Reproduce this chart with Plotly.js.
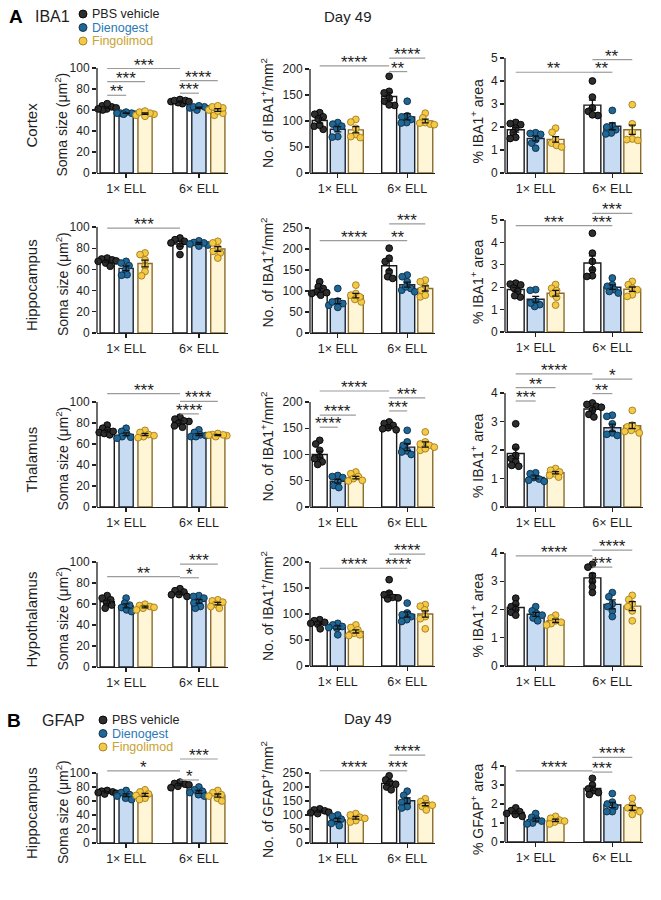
<!DOCTYPE html>
<html>
<head>
<meta charset="utf-8">
<script src="https://cdn.plot.ly/plotly-3.0.1.min.js"></script>
<style>
  html, body { margin: 0; padding: 0; background: #fff; }
  #fig { width: 661px; height: 900px; }
</style>
</head>
<body>
<div id="fig"></div>
<script>
// ---- categories ----
const groups = ['1× ELL', '6× ELL'];
const treatments = ['PBS vehicle', 'Dienogest', 'Fingolimod'];
const regions = ['Cortex', 'Hippocampus', 'Thalamus', 'Hypothalamus', 'Hippocampus'];

// Bar order in every panel: PBS 1×, Dienogest 1×, Fingolimod 1×, PBS 6×, Dienogest 6×, Fingolimod 6×
// Significance brackets: [from bar, to bar, label]; bracket heights in the matching *SigY array.

// ---- IBA1, cortex ----
const ctxSomaMean = [62.4, 57, 56.5, 68.1, 62.2, 60];
const ctxSomaSem = [0.8, 0.3, 0.7, 0.5, 0.6, 1.3];
const ctxSomaPts = [[61,63,64,66,62,60,61],[56,57,57,58,57,56],[54,55,56,57,58,59],[66,67,68,69,70,69,68],[60,61,62,63,63,64],[55,57,59,60,62,63,64]];
const ctxSomaSig = [[0,1,'**'],[0,2,'***'],[0,3,'***'],[3,4,'***'],[3,5,'****']];
const ctxSomaSigY = [74, 87, 99.5, 76, 88];

const ctxCountMean = [101, 84, 83, 147, 108, 100];
const ctxCountSem = [5, 5, 6, 8, 6, 3.5];
const ctxCountPts = [[116,113,108,104,90,84,92],[97,94,90,86,70,69],[103,98,86,74,70,68],[186,157,154,144,138,130,131],[138,110,108,103,97,96],[115,106,97,94,93,96]];
const ctxCountSig = [[0,3,'****'],[3,4,'**'],[3,5,'****']];
const ctxCountSigY = [206, 195, 221];

const ctxAreaMean = [1.88, 1.5, 1.46, 2.95, 2.03, 1.88];
const ctxAreaSem = [0.1, 0.1, 0.12, 0.22, 0.15, 0.2];
const ctxAreaPts = [[2.2,2.15,2.1,1.95,1.75,1.55,1.5],[1.75,1.72,1.68,1.45,1.3,1.08],[1.95,1.77,1.45,1.3,1.2,1.13],[4.0,3.3,2.83,2.68,2.5,2.53],[2.72,2.06,2.0,1.88,1.74,1.7],[2.97,2.14,1.77,1.48,1.45,1.42]];
const ctxAreaSig = [[0,3,'**'],[3,4,'**'],[3,5,'**']];
const ctxAreaSigY = [4.38, 4.38, 4.93];

// ---- IBA1, hippocampus ----
const hipSomaMean = [67.7, 61, 65.5, 84, 84.5, 79.3];
const hipSomaSem = [0.9, 2.2, 3.2, 2.3, 0.9, 2.2];
const hipSomaPts = [[70.7,69.8,69,67.6,66,63,68],[67.6,66,63.5,59.7,55,54.5],[75.5,74,69,63,58,54],[89.6,88,86.5,85,81.8,74],[87,85.4,84,83,82,85],[86.5,85,80,77,75.5,70.7]];
const hipSomaSig = [[0,3,'***']];
const hipSomaSigY = [99];

const hipCountMean = [102, 76, 89, 160, 115, 106];
const hipCountSem = [4.5, 6, 5.5, 11, 6, 6];
const hipCountPts = [[122,110,106,98,94,90,96],[106,76,70,66,61,74],[114,94,90,80,74,86],[202,178,170,146,134,130],[138,134,122,106,102,98,110],[126,122,110,102,86,90]];
const hipCountSig = [[0,3,'****'],[3,4,'**'],[3,5,'***']];
const hipCountSigY = [220, 220, 260];

const hipAreaMean = [1.9, 1.46, 1.73, 3.08, 2.0, 1.91];
const hipAreaSem = [0.09, 0.13, 0.13, 0.32, 0.1, 0.1];
const hipAreaPts = [[2.18,2.14,2.1,1.96,1.81,1.56,1.62],[1.89,1.86,1.37,1.22,1.14,1.29],[2.12,1.95,1.85,1.7,1.55,1.2],[4.41,3.52,3.15,2.78,2.51,2.48],[2.41,2.11,2.04,1.89,1.81,1.74],[2.26,2.11,1.96,1.89,1.66,1.59]];
const hipAreaSig = [[0,3,'***'],[3,4,'***'],[3,5,'***']];
const hipAreaSigY = [4.75, 4.75, 5.3];

// ---- IBA1, thalamus ----
const thalSomaMean = [72.4, 69.2, 69, 80.8, 69, 68.5];
const thalSomaSem = [1.1, 1.3, 1.0, 1.4, 0.9, 0.4];
const thalSomaPts = [[78,75,73,71,70,68.7,72],[75,72,70,67,65.5,66.5],[73,71,69,67,66,68],[85.6,83.7,81.5,80,77.3,76,82],[73.5,71,68.7,67,68,67],[70,69,68.4,67,68,68.7]];
const thalSomaSig = [[0,3,'***'],[3,4,'****'],[3,5,'****']];
const thalSomaSigY = [108, 88.6, 100.5];

const thalCountMean = [100, 49, 56, 152, 114, 119];
const thalCountSem = [6, 3.5, 2.5, 2, 6.5, 5];
const thalCountPts = [[127,120,108,95,92,86,81],[60,58,56,47.6,41,37],[66.7,63.5,58,54,50.8,49.5],[162,159,155.5,151,149,147],[146,124,117.5,106.7,104.8,100],[143,124,117.5,114,108,111,120]];
const thalCountSig = [[0,1,'****'],[0,2,'****'],[0,3,'****'],[3,4,'***'],[3,5,'***']];
const thalCountSigY = [152, 175, 221, 183, 208];

const thalAreaMean = [1.88, 1.04, 1.2, 3.44, 2.78, 2.85];
const thalAreaSem = [0.18, 0.05, 0.04, 0.07, 0.13, 0.1];
const thalAreaPts = [[2.92,2.1,1.81,1.7,1.58,1.43,1.46],[1.2,1.17,1.03,0.98,0.94,0.9],[1.35,1.29,1.23,1.17,1.05,1.11],[3.65,3.6,3.53,3.39,3.25,3.16,3.5],[3.22,3.18,2.92,2.6,2.51,2.55],[3.39,2.81,2.75,2.69,2.6,2.87,2.65]];
const thalAreaSig = [[0,1,'***'],[0,2,'**'],[0,3,'****'],[3,4,'**'],[3,5,'*']];
const thalAreaSigY = [3.72, 4.19, 4.67, 3.98, 4.49];

// ---- IBA1, hypothalamus ----
const hypSomaMean = [62.2, 58.2, 57.2, 70.2, 62.5, 60.4];
const hypSomaSem = [1.8, 1.9, 0.8, 1.1, 1.7, 1.2];
const hypSomaPts = [[68,65.6,64,60.8,59,56],[65.6,60.8,59,56.6,54.4,52.8],[59.8,58.6,57.6,56,54.4,56.8],[74.6,72.6,71.4,68.8,67.2,69],[68,67.2,65.6,62.4,57.6,56,61],[64,63,61.8,59.8,57.6,56]];
const hypSomaSig = [[0,3,'**'],[3,4,'*'],[3,5,'***']];
const hypSomaSigY = [86, 85, 98];

const hypCountMean = [82.3, 74, 66.5, 137, 99, 100];
const hypCountSem = [2.5, 3, 3, 5.5, 5, 6];
const hypCountPts = [[89,87,84,80.5,71.5,82],[82,79,76,72.8,60,74],[79,74,69.5,63,60,58.6],[166,140,137,132,129,131],[121,102,98.5,95,89,85.6],[118,115,108,95,91,71.5]];
const hypCountSig = [[0,3,'****'],[3,4,'****'],[3,5,'****']];
const hypCountSigY = [188, 188, 215];

const hypAreaMean = [2.07, 1.83, 1.6, 3.12, 2.18, 2.12];
const hypAreaSem = [0.09, 0.07, 0.06, 0.16, 0.16, 0.16];
const hypAreaPts = [[2.4,2.2,2.1,2.0,1.9,1.8],[2.1,1.95,1.85,1.8,1.7,1.6],[1.8,1.7,1.6,1.55,1.5,1.45],[3.6,3.5,3.2,3.0,2.8,2.6],[2.6,2.45,2.2,2.1,1.95,1.75],[2.5,2.35,2.2,2.1,1.95,1.6]];
const hypAreaSig = [[0,3,'****'],[3,4,'***'],[3,5,'****']];
const hypAreaSigY = [3.9, 3.5, 4.1];

// ---- GFAP, hippocampus ----
const gfapSomaMean = [72.5, 68.2, 68.8, 83.2, 73, 67.8];
const gfapSomaSem = [0.8, 2, 2.2, 1.2, 2, 2.2];
const gfapSomaPts = [[75,74,73,72,71,70],[75,72,69,67,64,62],[76,73,70,68,64,62],[87,85,84,83,81,79],[80,76,74,72,69,67],[75,72,69,67,64,60]];
const gfapSomaSig = [[0,3,'*'],[3,4,'*'],[3,5,'***']];
const gfapSomaSigY = [103, 90, 120];

const gfapCountMean = [113, 82, 90, 213, 151, 138];
const gfapCountSem = [3, 6, 5, 7, 10, 5];
const gfapCountPts = [[122,118,115,110,108,105],[100,95,85,78,70,62],[105,100,92,88,80,75],[240,225,215,210,200,190],[185,170,150,145,130,125],[158,148,140,135,130,118]];
const gfapCountSig = [[0,3,'****'],[3,4,'***'],[3,5,'****']];
const gfapCountSigY = [258, 258, 314];

const gfapAreaMean = [1.56, 1.18, 1.14, 2.82, 1.95, 1.8];
const gfapAreaSem = [0.06, 0.08, 0.06, 0.12, 0.14, 0.13];
const gfapAreaPts = [[1.8,1.65,1.6,1.5,1.45,1.35],[1.5,1.3,1.2,1.1,1.0,0.95],[1.35,1.25,1.15,1.1,1.05,0.95],[3.35,3.0,2.8,2.7,2.6,2.5],[2.55,2.1,2.0,1.85,1.6,1.6],[2.3,1.95,1.8,1.7,1.6,1.45]];
const gfapAreaSig = [[0,3,'****'],[3,4,'***'],[3,5,'****']];
const gfapAreaSigY = [3.74, 3.68, 4.45];

// ---- y axis titles and tick extents ----
const somaTitle = 'Soma size (μm<sup>2</sup>)';
const ibaCountTitle = 'No. of IBA1<sup>+</sup>/mm<sup>2</sup>';
const ibaAreaTitle = '% IBA1<sup>+</sup> area';
const gfapCountTitle = 'No. of GFAP<sup>+</sup>/mm<sup>2</sup>';
const gfapAreaTitle = '% GFAP<sup>+</sup> area';
const axisMax = [[100, 200, 5], [100, 250, 5], [100, 200, 4], [100, 200, 4], [100, 250, 4]];
const axisStep = [[20, 50, 1], [20, 50, 1], [20, 50, 1], [20, 50, 1], [20, 50, 1]];

const panelRows = [
  [[ctxSomaMean, ctxSomaSem, ctxSomaPts, ctxSomaSig, ctxSomaSigY, somaTitle],
   [ctxCountMean, ctxCountSem, ctxCountPts, ctxCountSig, ctxCountSigY, ibaCountTitle],
   [ctxAreaMean, ctxAreaSem, ctxAreaPts, ctxAreaSig, ctxAreaSigY, ibaAreaTitle]],
  [[hipSomaMean, hipSomaSem, hipSomaPts, hipSomaSig, hipSomaSigY, somaTitle],
   [hipCountMean, hipCountSem, hipCountPts, hipCountSig, hipCountSigY, ibaCountTitle],
   [hipAreaMean, hipAreaSem, hipAreaPts, hipAreaSig, hipAreaSigY, ibaAreaTitle]],
  [[thalSomaMean, thalSomaSem, thalSomaPts, thalSomaSig, thalSomaSigY, somaTitle],
   [thalCountMean, thalCountSem, thalCountPts, thalCountSig, thalCountSigY, ibaCountTitle],
   [thalAreaMean, thalAreaSem, thalAreaPts, thalAreaSig, thalAreaSigY, ibaAreaTitle]],
  [[hypSomaMean, hypSomaSem, hypSomaPts, hypSomaSig, hypSomaSigY, somaTitle],
   [hypCountMean, hypCountSem, hypCountPts, hypCountSig, hypCountSigY, ibaCountTitle],
   [hypAreaMean, hypAreaSem, hypAreaPts, hypAreaSig, hypAreaSigY, ibaAreaTitle]],
  [[gfapSomaMean, gfapSomaSem, gfapSomaPts, gfapSomaSig, gfapSomaSigY, somaTitle],
   [gfapCountMean, gfapCountSem, gfapCountPts, gfapCountSig, gfapCountSigY, gfapCountTitle],
   [gfapAreaMean, gfapAreaSem, gfapAreaPts, gfapAreaSig, gfapAreaSigY, gfapAreaTitle]]
];

// ---- page geometry (pixels) ----
const W = 661, H = 900;
const colPx = [[97, 228], [310, 435], [505, 643]];
const zeroPx = [[173, 173, 173], [333, 333, 332], [507, 507, 507], [667, 666, 666], [843, 843, 842]];
const topTickPx = [[68, 69, 58], [227, 228, 220], [402, 402, 393], [562, 562, 553], [773, 773, 766]];
const titleX = [62, 267, 477];
const titleShift = [4, -8, 5];
const xRange = [-0.4, 1.4];
const barOffset = 0.26;
const barWidth = [0.195, 0.215, 0.22];

// ---- styles ----
const FONT = 'Liberation Sans, Arial, Helvetica, sans-serif';
const INK = '#1e1e1e';
const fillCol = ['#ffffff', '#c7dcf3', '#fff6d8'];
const edgeCol = ['#1a1a1a', '#1d2530', '#8c6c2c'];
const dotCol = ['#2e2e2e', '#1f6797', '#f4c945'];
const dotEdge = ['#000000', '#0e2b40', '#a27c1f'];
const legendText = ['#222222', '#2b78b6', '#c9a230'];

const px2x = p => p / W;
const py2y = p => 1 - p / H;

const traces = [];
const shapes = [];
const annotations = [];
const layout = {
  width: W, height: H,
  margin: {l: 0, r: 0, t: 0, b: 0},
  paper_bgcolor: '#fff', plot_bgcolor: 'rgba(0,0,0,0)',
  font: {family: FONT, color: INK, size: 12},
  showlegend: false,
  barmode: 'overlay',
  hovermode: false
};

// horizontal position of bar k (group index + treatment offset)
const barPos = k => Math.floor(k / 3) + (k % 3 - 1) * barOffset;

// spread overlapping dots sideways (in pixel space)
function swarm(vals, pxPerY, diam, maxOff) {
  const order = vals.map((v, i) => i).sort((a, b) => vals[b] - vals[a]);
  const placed = [];
  const off = new Array(vals.length).fill(0);
  const cands = [];
  for (let s = -maxOff; s <= maxOff; s += 0.5) cands.push(s);
  cands.sort((a, b) => Math.abs(a) - Math.abs(b));
  for (const i of order) {
    const y = vals[i] * pxPerY;
    let chosen = null, bestScore = -1, bestCand = 0;
    for (const c of cands) {
      let score = Infinity;
      for (const p of placed) score = Math.min(score, Math.hypot(p.x - c, p.y - y));
      if (score >= diam) { chosen = c; break; }
      if (score > bestScore + 0.01) { bestScore = score; bestCand = c; }
    }
    if (chosen === null) chosen = bestCand;
    placed.push({x: chosen, y: y});
    off[i] = chosen;
  }
  return off;
}

panelRows.forEach((row, r) => {
  row.forEach((panel, c) => {
    const [mean, sem, pts, sig, sigY, title] = panel;
    const n = r * 3 + c + 1;
    const xa = n === 1 ? 'x' : 'x' + n;
    const ya = n === 1 ? 'y' : 'y' + n;
    const p0 = zeroPx[r][c], pt = topTickPx[r][c];
    const yMax = axisMax[r][c];
    const pxPerY = (p0 - pt) / yMax;
    const pxPerX = (colPx[c][1] - colPx[c][0]) / (xRange[1] - xRange[0]);
    const topVal = Math.max(yMax, Math.max(...sigY)) + 6 / pxPerY;

    const tickvals = [];
    for (let v = 0; v <= yMax + 1e-9; v += axisStep[r][c]) tickvals.push(+v.toFixed(4));

    layout['xaxis' + (n === 1 ? '' : n)] = {
      domain: [px2x(colPx[c][0]), px2x(colPx[c][1])],
      range: xRange, anchor: ya, fixedrange: true,
      tickmode: 'array', tickvals: [0, 1], ticktext: groups,
      ticks: 'outside', ticklen: 4, tickwidth: 1.3, tickcolor: INK,
      showline: true, linecolor: INK, linewidth: 1.3,
      showgrid: false, zeroline: false,
      tickfont: {family: FONT, size: 12.5, color: INK}
    };
    layout['yaxis' + (n === 1 ? '' : n)] = {
      domain: [py2y(p0), py2y(p0 - topVal * pxPerY)],
      range: [0, topVal], anchor: xa, fixedrange: true,
      tickmode: 'array', tickvals: tickvals,
      ticks: 'outside', ticklen: 4, tickwidth: 1.3, tickcolor: INK,
      showline: false, showgrid: false, zeroline: false,
      tickfont: {family: FONT, size: 12, color: INK}
    };
    // y axis line only over the labelled span
    shapes.push({type: 'line', xref: xa + ' domain', yref: ya, x0: 0, x1: 0, y0: 0, y1: yMax,
                 line: {color: INK, width: 1.3}});

    for (let t = 0; t < 3; t++) {
      const ks = [t, t + 3];
      traces.push({
        type: 'bar', xaxis: xa, yaxis: ya,
        x: ks.map(barPos), y: ks.map(k => mean[k]), width: barWidth[c],
        marker: {color: fillCol[t], line: {color: edgeCol[t], width: 1.4}},
        name: treatments[t], hoverinfo: 'skip'
      });
    }
    for (let t = 0; t < 3; t++) {
      const xs = [], ys = [];
      [t, t + 3].forEach(k => {
        const off = swarm(pts[k], pxPerY, 5.2, 9);
        pts[k].forEach((v, i) => { xs.push(barPos(k) + off[i] / pxPerX); ys.push(v); });
      });
      traces.push({
        type: 'scatter', mode: 'markers', xaxis: xa, yaxis: ya, x: xs, y: ys,
        marker: {size: 6.8, color: dotCol[t], line: {color: dotEdge[t], width: 0.9}},
        cliponaxis: false, hoverinfo: 'skip', name: treatments[t]
      });
    }
    for (let t = 0; t < 3; t++) {
      const ks = [t, t + 3];
      traces.push({
        type: 'scatter', mode: 'markers', xaxis: xa, yaxis: ya,
        x: ks.map(barPos), y: ks.map(k => mean[k]),
        marker: {size: 1, color: 'rgba(0,0,0,0)'},
        error_y: {type: 'data', array: ks.map(k => sem[k]), color: '#111', thickness: 1.3, width: 3.5},
        hoverinfo: 'skip', name: treatments[t]
      });
    }

    sig.forEach((s, i) => {
      const [a, b, label] = s;
      shapes.push({type: 'line', xref: xa, yref: ya, x0: barPos(a), x1: barPos(b), y0: sigY[i], y1: sigY[i],
                   line: {color: '#9b9b9b', width: 1.2}});
      annotations.push({xref: xa, yref: ya, x: (barPos(a) + barPos(b)) / 2, y: sigY[i],
                        text: label, showarrow: false, xanchor: 'center', yanchor: 'bottom', yshift: -8,
                        font: {family: FONT, size: 17, color: INK}});
    });

    const midPx = (p0 + pt) / 2;
    annotations.push({xref: 'paper', yref: 'paper', x: px2x(titleX[c]), y: py2y(midPx + titleShift[c]),
                      text: title, textangle: -90, showarrow: false, xanchor: 'center', yanchor: 'middle',
                      font: {family: FONT, size: 14, color: INK}});
    if (c === 0) {
      annotations.push({xref: 'paper', yref: 'paper', x: px2x(31), y: py2y(midPx + 5),
                        text: regions[r], textangle: -90, showarrow: false, xanchor: 'center', yanchor: 'middle',
                        font: {family: FONT, size: 15, color: INK}});
    }
  });
});

// ---- panel headings and legends ----
function heading(letter, marker, lx, ly, markerX, dayX, dayY, legX, legY0) {
  annotations.push({xref: 'paper', yref: 'paper', x: px2x(lx), y: py2y(ly), text: '<b>' + letter + '</b>',
                    showarrow: false, xanchor: 'center', yanchor: 'middle', font: {family: FONT, size: 19, color: '#000'}});
  annotations.push({xref: 'paper', yref: 'paper', x: px2x(markerX), y: py2y(ly), text: marker,
                    showarrow: false, xanchor: 'left', yanchor: 'middle', font: {family: FONT, size: 16, color: INK}});
  annotations.push({xref: 'paper', yref: 'paper', x: px2x(dayX), y: py2y(dayY), text: 'Day 49',
                    showarrow: false, xanchor: 'center', yanchor: 'middle', font: {family: FONT, size: 15, color: INK}});
  treatments.forEach((name, t) => {
    const cy = legY0 + t * 13.5;
    shapes.push({type: 'circle', xref: 'paper', yref: 'paper',
                 x0: px2x(legX - 4), x1: px2x(legX + 4), y0: py2y(cy + 4), y1: py2y(cy - 4),
                 fillcolor: dotCol[t], line: {color: dotEdge[t], width: 0.9}});
    annotations.push({xref: 'paper', yref: 'paper', x: px2x(legX + 7), y: py2y(cy), text: name,
                      showarrow: false, xanchor: 'left', yanchor: 'middle',
                      font: {family: FONT, size: 12.5, color: legendText[t]}});
  });
}
heading('A', 'IBA1', 16, 17, 33, 348, 17, 83, 14);
heading('B', 'GFAP', 14, 720, 40, 368, 718, 103, 720);

layout.shapes = shapes;
layout.annotations = annotations;

Plotly.newPlot('fig', traces, layout, {staticPlot: true, displayModeBar: false});
</script>
</body>
</html>
